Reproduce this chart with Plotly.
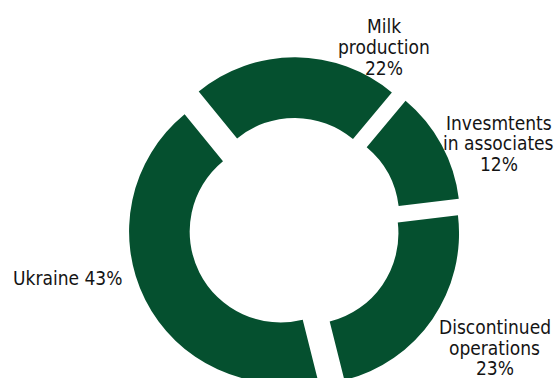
import plotly.graph_objects as go

# ---- data ----
labels = ["Milk production", "Invesmtents in associates", "Discontinued operations", "Ukraine"]
values = [22, 12, 23, 43]
label_lines = [["Milk", "production"], ["Invesmtents", "in associates"], ["Discontinued", "operations"], []]

# ---- layout / style ----
W, H = 559, 449
GREEN = "#05502F"
TEXT = "#141414"
FONT = "DejaVu Sans Condensed, DejaVu Sans, Verdana, sans-serif"
FS = 19
# label placement in pixels: center x, first baseline y, line spacing
label_pos = [(383.5, 32.3, 20.9), (498.5, 129.3, 20.7), (494.5, 333.3, 20.8), (67.5, 285.0, 21.0)]

cx_px, box_px = 294.6, 334.4

fig = go.Figure()
fig.add_trace(go.Pie(
    labels=labels, values=values, sort=False, direction="clockwise",
    rotation=-39.3, hole=0.6, pull=0.1036,
    marker=dict(colors=[GREEN] * len(values), line=dict(width=0)),
    textinfo="none", hoverinfo="skip", showlegend=False,
    domain=dict(x=[(cx_px - box_px / 2) / W, (cx_px + box_px / 2) / W], y=[0, 1]),
))

annotations = []
for lines, v, (xc, yb, sp) in zip(label_lines, values, label_pos):
    if lines:
        all_lines = lines + [f"{v}%"]
    else:
        all_lines = [f"Ukraine {v}%"]
    for i, t in enumerate(all_lines):
        base = yb + i * sp
        yc = base - 0.346 * FS
        annotations.append(dict(
            text=t, x=xc / W, y=1 - yc / H, xref="paper", yref="paper",
            xanchor="center", yanchor="middle", showarrow=False,
            font=dict(family=FONT, size=FS, color=TEXT),
        ))

fig.update_layout(
    width=W, height=H, margin=dict(l=0, r=0, t=0, b=0),
    paper_bgcolor="white", plot_bgcolor="white",
    annotations=annotations,
)

fig.write_html("out.html", post_script="document.documentElement.style.overflow='hidden';document.body.style.overflow='hidden';")
